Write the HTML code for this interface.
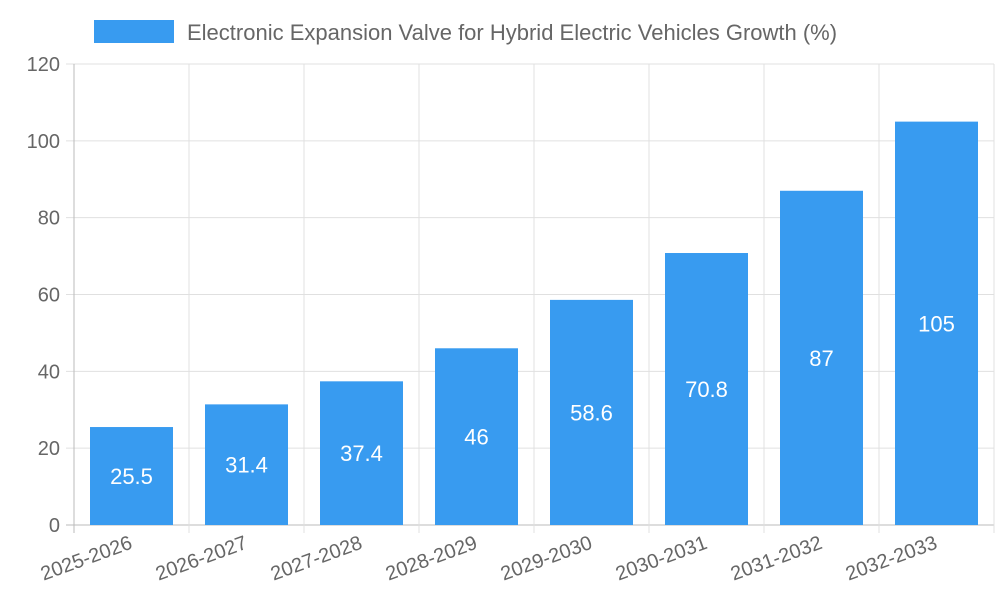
<!DOCTYPE html>
<html><head><meta charset="utf-8"><style>
body{margin:0;background:#fff;font-family:"Liberation Sans",sans-serif}
</style></head><body>
<svg width="1000" height="600" xmlns="http://www.w3.org/2000/svg" font-family="Liberation Sans, sans-serif">
<g id="legend">
<rect x="94" y="20" width="80" height="23" fill="#389BF0"/>
<text x="187" y="40" font-size="22" fill="#666">Electronic Expansion Valve for Hybrid Electric Vehicles Growth (%)</text>
</g>
<g id="grid"></g>
<g id="bars"></g>
</svg>
<script>
const categories=["2025-2026","2026-2027","2027-2028","2028-2029","2029-2030","2030-2031","2031-2032","2032-2033"];
const values=[25.5,31.4,37.4,46,58.6,70.8,87,105];
const yTicks=[0,20,40,60,80,100,120];
const NS="http://www.w3.org/2000/svg";
const L=74,R=994,T=64,B=525,yMax=120;
const band=(R-L)/categories.length;
const y=v=>B-(v/yMax)*(B-T);
const x=i=>L+i*band;
const grid=document.getElementById('grid'),bars=document.getElementById('bars');
function mk(tag,attrs,parent){const e=document.createElementNS(NS,tag);for(const k in attrs)e.setAttribute(k,attrs[k]);parent.appendChild(e);return e;}
yTicks.forEach(t=>{
  const g=mk('line',{x1:L-8,x2:R,y1:y(t),y2:y(t),stroke:t===0?'#bbb':'#e0e0e0','stroke-width':1},grid);
  
  
  const tx=mk('text',{x:L-14,y:y(t)+7,'text-anchor':'end','font-size':20,fill:'#666'},grid);
  tx.textContent=t;
  
  
});
for(let i=0;i<=categories.length;i++){
  const g=mk('line',{x1:x(i),x2:x(i),y1:T,y2:B+8,stroke:i===0?'#bbb':'#e0e0e0','stroke-width':1},grid);
  
  
}
categories.forEach((c,i)=>{
  const cx=x(i)+band/2, bw=83;
  const r=mk('rect',{x:cx-bw/2,y:y(values[i]),width:bw,height:B-y(values[i]),fill:'#389BF0'},bars);
  
  
  const v=mk('text',{x:cx,y:(y(values[i])+B)/2+8,'text-anchor':'middle','font-size':22,fill:'#fff'},bars);
  v.textContent=values[i];
  
  
  const lx=cx+2, ly=548;
  const t=mk('text',{x:lx,y:ly,'text-anchor':'end','font-size':20,fill:'#666',transform:`rotate(-20 ${lx} ${ly})`},bars);
  t.textContent=c;
  
  
});
</script>
</body></html>
